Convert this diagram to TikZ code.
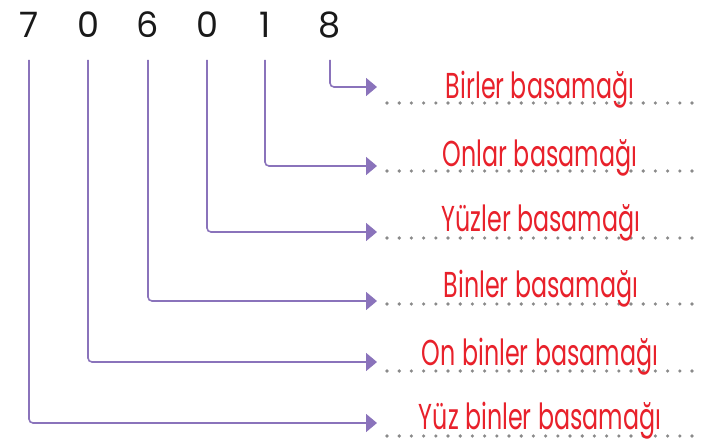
\documentclass[tikz,border=0pt]{standalone}
\usepackage{fontspec}
\setmainfont{Poppins}
\newfontfamily\labelfont[FakeStretch=0.66]{Poppins}
\usetikzlibrary{arrows.meta}
\definecolor{linkpurple}{RGB}{138,115,187}
\definecolor{labelred}{RGB}{232,33,43}
\definecolor{dotgray}{RGB}{138,138,138}
\tikzset{
  digit/.style={font=\fontsize{35}{35}\selectfont, text=black!90, inner sep=0pt, anchor=base},
  placelabel/.style={font=\labelfont\fontsize{36}{36}\selectfont, text=labelred, inner sep=0pt, anchor=base},
  link/.style={draw=linkpurple, line width=1.6pt, rounded corners=4pt,
    -{Triangle[length=11pt,width=18pt]}},
}
\begin{document}
\begin{tikzpicture}[x=1pt,y=-1pt]
\useasboundingbox (0,0) rectangle (714,443);
% digits
\node[digit] (d1) at (29,38) {7};
\node[digit] (d2) at (88,38) {0};
\node[digit] (d3) at (148,38) {6};
\node[digit] (d4) at (207,38) {0};
\node[digit] (d5) at (265,38) {1};
\node[digit] (d6) at (330,38) {8};
% arrow tips
\foreach \r/\n in {87/t6,166/t5,232/t4,301/t3,362/t2,423/t1}
  \coordinate (\n) at (377,\r);
% dotted lines
\foreach \r in {103,171,238,304,371,436}
  \foreach \i in {0,...,25}
    \fill[dotgray] (387+\i*12.2,\r) circle (1.8);
% labels
\node[placelabel] (l6) at (540,99) {Birler basamağı};
\node[placelabel] (l5) at (540,167) {Onlar basamağı};
\node[placelabel] (l4) at (541,232) {Yüzler basamağı};
\node[placelabel] (l3) at (541,298) {Binler basamağı};
\node[placelabel] (l2) at (540,365) {On binler basamağı};
\node[placelabel] (l1) at (540,429) {Yüz binler basamağı};
% connectors
\foreach \d/\t in {d1/t1,d2/t2,d3/t3,d4/t4,d5/t5,d6/t6}
  \draw[link] ([yshift=-22pt]\d.base) |- (\t);
\end{tikzpicture}
\end{document}
